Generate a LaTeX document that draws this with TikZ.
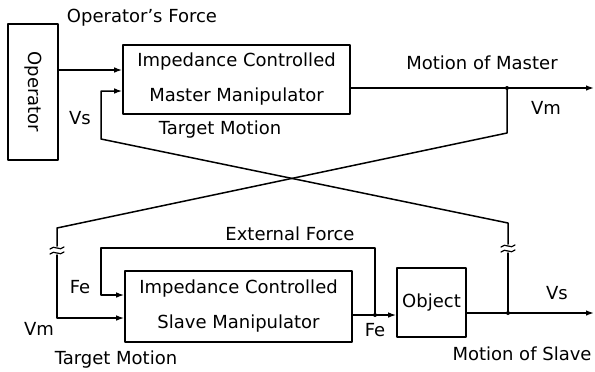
\documentclass[tikz,border=0pt]{standalone}
\usepackage{fontspec}
\setmainfont{DejaVu Sans}
\usetikzlibrary{arrows.meta}

\begin{document}
\begin{tikzpicture}[x=0.5pt, y=-0.5pt, >={Latex[length=4pt,width=2.8pt]},
    line cap=round, line join=round, font=\fontsize{9}{10}\selectfont]

% --- Global TikZ Styles ---
\tikzset{
    signal/.style={
        draw=black,
        line width=0.75pt
    },
    block/.style={
        draw=black,
        line width=0.8pt,
        rectangle,
        inner sep=0pt,
        align=center
    },
    junction/.style={
        circle,
        fill=black,
        inner sep=0pt,
        minimum size=2pt
    },
    label/.style={
        inner sep=1pt
    }
}

\useasboundingbox (0,0) rectangle (595,371);

% --- Blokken ---
\node[block, minimum width=25pt, minimum height=68pt] (op) at (33,92)
    {\rotatebox{-90}{Operator}};
\node[block, minimum width=113.5pt, minimum height=34.5pt,
      font=\fontsize{9}{17.5}\selectfont] (mas) at (236.5,79.5)
    {Impedance Controlled\\Master Manipulator};
\node[block, minimum width=113.5pt, minimum height=35.5pt,
      font=\fontsize{9}{17.5}\selectfont] (sl) at (238.5,306.5)
    {Impedance Controlled\\Slave Manipulator};
\node[block, minimum width=34.5pt, minimum height=34.5pt] (obj) at (431.5,302.5)
    {Object};

% --- Hulpcoordinaten ---
\coordinate (mOut) at (594,88);
\coordinate (sOut) at (594,313);
\coordinate (jm) at (507,88);
\coordinate (js) at (508,313);
\coordinate (jf) at (375,315);

% --- Operator -> master ---
\draw[signal, ->] (op.east |- 0,70) -- (mas.west |- 0,70);

% --- Uitgang master: Vm ---
\draw[signal, ->] (mas.east |- 0,88) -- (mOut);
\draw[signal] (jm) -- (507,133) -- (57,228) -- (57,246);
\draw[signal, ->] (57,255) -- (57,318) -- (sl.west |- 0,318);

% --- Uitgang object: Vs ---
\draw[signal, ->] (obj.east |- 0,313) -- (sOut);
\draw[signal] (js) -- (508,253);
\draw[signal, ->] (508,244) -- (508,223) -- (101,139) -- (101,91) -- (mas.west |- 0,91);

% --- Slave -> object en krachtterugkoppeling ---
\draw[signal, ->] (sl.east |- 0,315) -- (obj.west |- 0,315);
\draw[signal, ->] (jf) -- (375,248) -- (101,248) -- (101,295) -- (sl.west |- 0,295);

% --- Onderbrekingstekens ---
\foreach \bx/\by in {57/248, 57/253, 508/246, 508/251}
    \draw[signal, line width=0.6pt]
        (\bx-7,\by+1) .. controls (\bx-3,\by-4) and (\bx+3,\by+4) .. (\bx+7,\by-1);

% --- Knooppunten ---
\node[junction] at (jm) {};
\node[junction] at (js) {};
\node[junction] at (jf) {};

% --- Labels ---
\node[label] (lForce)   at (142,18)  {Operator's Force};
\node[label] (lVsTop)   at (80,118)  {Vs};
\node[label] (lTgtTop)  at (220,130) {Target Motion};
\node[label] (lMaster)  at (482,63)  {Motion of Master};
\node[label] (lVmTop)   at (546,108) {Vm};
\node[label] (lExt)     at (290,234) {External Force};
\node[label] (lFeLeft)  at (80,287)  {Fe};
\node[label] (lVmBot)   at (39,329)  {Vm};
\node[label] (lTgtBot)  at (116,360) {Target Motion};
\node[label] (lFeBot)   at (375,330) {Fe};
\node[label] (lVsBot)   at (557,293) {Vs};
\node[label] (lSlave)   at (522,354) {Motion of Slave};

\end{tikzpicture}
\end{document}
